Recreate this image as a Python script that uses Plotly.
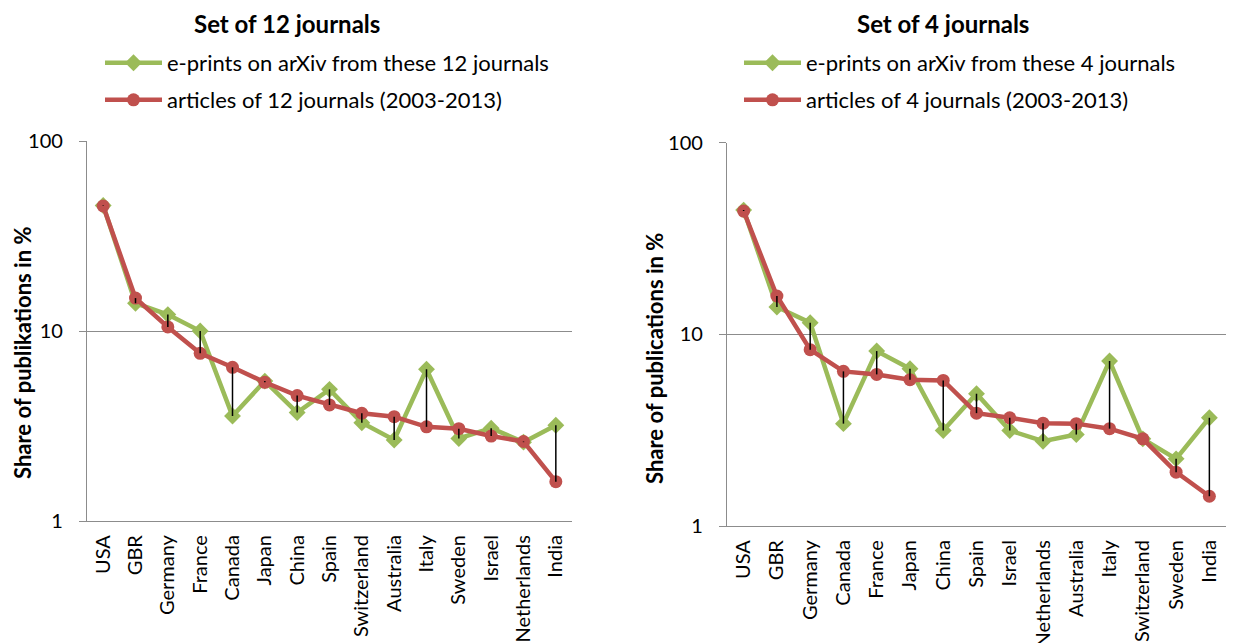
import plotly.graph_objects as go

# ---------------- data ----------------
categories_12 = ["USA", "GBR", "Germany", "France", "Canada", "Japan", "China", "Spain",
                 "Switzerland", "Australia", "Italy", "Sweden", "Israel", "Netherlands", "India"]
eprints_12 = [45.8, 14.0, 12.2, 10.0, 3.57, 5.45, 3.72, 4.93, 3.29, 2.67, 6.29, 2.72, 3.08, 2.60, 3.19]
articles_12 = [45.5, 14.9, 10.5, 7.63, 6.44, 5.37, 4.57, 4.08, 3.69, 3.54, 3.13, 3.06, 2.80, 2.62, 1.61]

categories_4 = ["USA", "GBR", "Germany", "Canada", "France", "Japan", "China", "Spain",
                "Israel", "Netherlands", "Australia", "Italy", "Switzerland", "Sweden", "India"]
eprints_4 = [44.5, 13.9, 11.5, 3.42, 8.18, 6.62, 3.15, 4.90, 3.15, 2.77, 3.00, 7.26, 2.85, 2.24, 3.67]
articles_4 = [44.0, 15.85, 8.32, 6.41, 6.18, 5.80, 5.75, 3.88, 3.67, 3.44, 3.42, 3.22, 2.85, 1.91, 1.43]

y_tick_vals = [1, 10, 100]
y_tick_text = ["1", "10", "100"]

titles = ["Set of 12 journals", "Set of 4 journals"]
legend_eprints = ["e-prints on arXiv from these 12 journals", "e-prints on arXiv from these 4 journals"]
legend_articles = ["articles of 12 journals (2003-2013)", "articles of 4 journals (2003-2013)"]
y_titles = ["Share of publikations in %", "Share of publications in %"]

# ---------------- style ----------------
GREEN = "#9BBB59"
RED = "#C0504D"
GRID = "#8C8C8C"
FONT = "Lato"
OFF = 8                       # page body margin
W, H = 1238 - OFF, 643 - OFF  # figure size that fits the window

fig = go.Figure()


def hilo(cats, a, b):
    xs, ys = [], []
    for c, v1, v2 in zip(cats, a, b):
        xs += [c, c, None]
        ys += [v1, v2, None]
    return xs, ys


panels = [
    (categories_12, eprints_12, articles_12, "x", "y", "legend", "legend2"),
    (categories_4, eprints_4, articles_4, "x2", "y2", "legend3", "legend4"),
]

for i, (cats, ep, ar, xa, ya, lg1, lg2) in enumerate(panels):
    fig.add_trace(go.Scatter(
        x=cats, y=ep, xaxis=xa, yaxis=ya, mode="lines+markers",
        name=legend_eprints[i], legend=lg1,
        line=dict(color=GREEN, width=4.5),
        marker=dict(symbol="diamond", size=13, color=GREEN),
    ))
    fig.add_trace(go.Scatter(
        x=cats, y=ar, xaxis=xa, yaxis=ya, mode="lines+markers",
        name=legend_articles[i], legend=lg2,
        line=dict(color=RED, width=4.5),
        marker=dict(symbol="circle", size=13, color=RED),
    ))
    hx, hy = hilo(cats, ep, ar)
    fig.add_trace(go.Scatter(
        x=hx, y=hy, xaxis=xa, yaxis=ya, mode="lines", showlegend=False,
        line=dict(color="black", width=1.5), hoverinfo="skip",
    ))


def px_x(p):
    return (p - OFF) / W


def px_y(p):
    return 1 - (p - OFF) / H


xcommon = dict(type="category", showgrid=False, showline=True, linecolor=GRID, linewidth=1.2,
               ticks="", tickangle=-90, tickfont=dict(family=FONT, size=20, color="black"),
               ticklabelstandoff=5,
               range=[-0.5, 14.5], zeroline=False, fixedrange=True, automargin=False)
ycommon = dict(type="log", range=[0, 2], tickvals=y_tick_vals, ticktext=y_tick_text,
               showgrid=True, gridcolor=GRID, gridwidth=1.2, showline=True, linecolor=GRID,
               linewidth=1.2, ticks="outside", ticklen=7, tickcolor=GRID, ticklabelstandoff=12,
               tickfont=dict(family=FONT, size=20, color="black"), zeroline=False,
               fixedrange=True, automargin=False)

fig.update_layout(
    width=W, height=H,
    margin=dict(l=0, r=0, t=0, b=0, autoexpand=False),
    paper_bgcolor="white", plot_bgcolor="white",
    xaxis=dict(domain=[px_x(87), px_x(572)], anchor="y", **xcommon),
    yaxis=dict(domain=[px_y(521), px_y(141)], anchor="x", **ycommon),
    xaxis2=dict(domain=[px_x(727), px_x(1226)], anchor="y2", **xcommon),
    yaxis2=dict(domain=[px_y(526), px_y(142.7)], anchor="x2", **ycommon),
)

leg = dict(bgcolor="rgba(0,0,0,0)", borderwidth=0, itemwidth=57,
           font=dict(family=FONT, size=22, color="black"), xanchor="left", yanchor="middle")
fig.update_layout(
    legend=dict(x=px_x(100), y=px_y(63), **leg),
    legend2=dict(x=px_x(100), y=px_y(100), **leg),
    legend3=dict(x=px_x(739), y=px_y(63), **leg),
    legend4=dict(x=px_x(739), y=px_y(100), **leg),
)

for t, cx in zip(titles, [287, 943]):
    fig.add_annotation(text="<b>" + t + "</b>", x=px_x(cx), y=1.0, xref="paper", yref="paper",
                       showarrow=False, xanchor="center", yanchor="top", borderpad=0,
                       font=dict(family=FONT, size=24, color="black"))

for t, cx, cy in zip(y_titles, [22, 655], [353, 359]):
    fig.add_annotation(text="<b>" + t + "</b>", x=px_x(cx), y=px_y(cy), xref="paper", yref="paper",
                       showarrow=False, xanchor="center", yanchor="middle", textangle=-90,
                       font=dict(family=FONT, size=22, color="black"))

fig.write_html("out.html")
